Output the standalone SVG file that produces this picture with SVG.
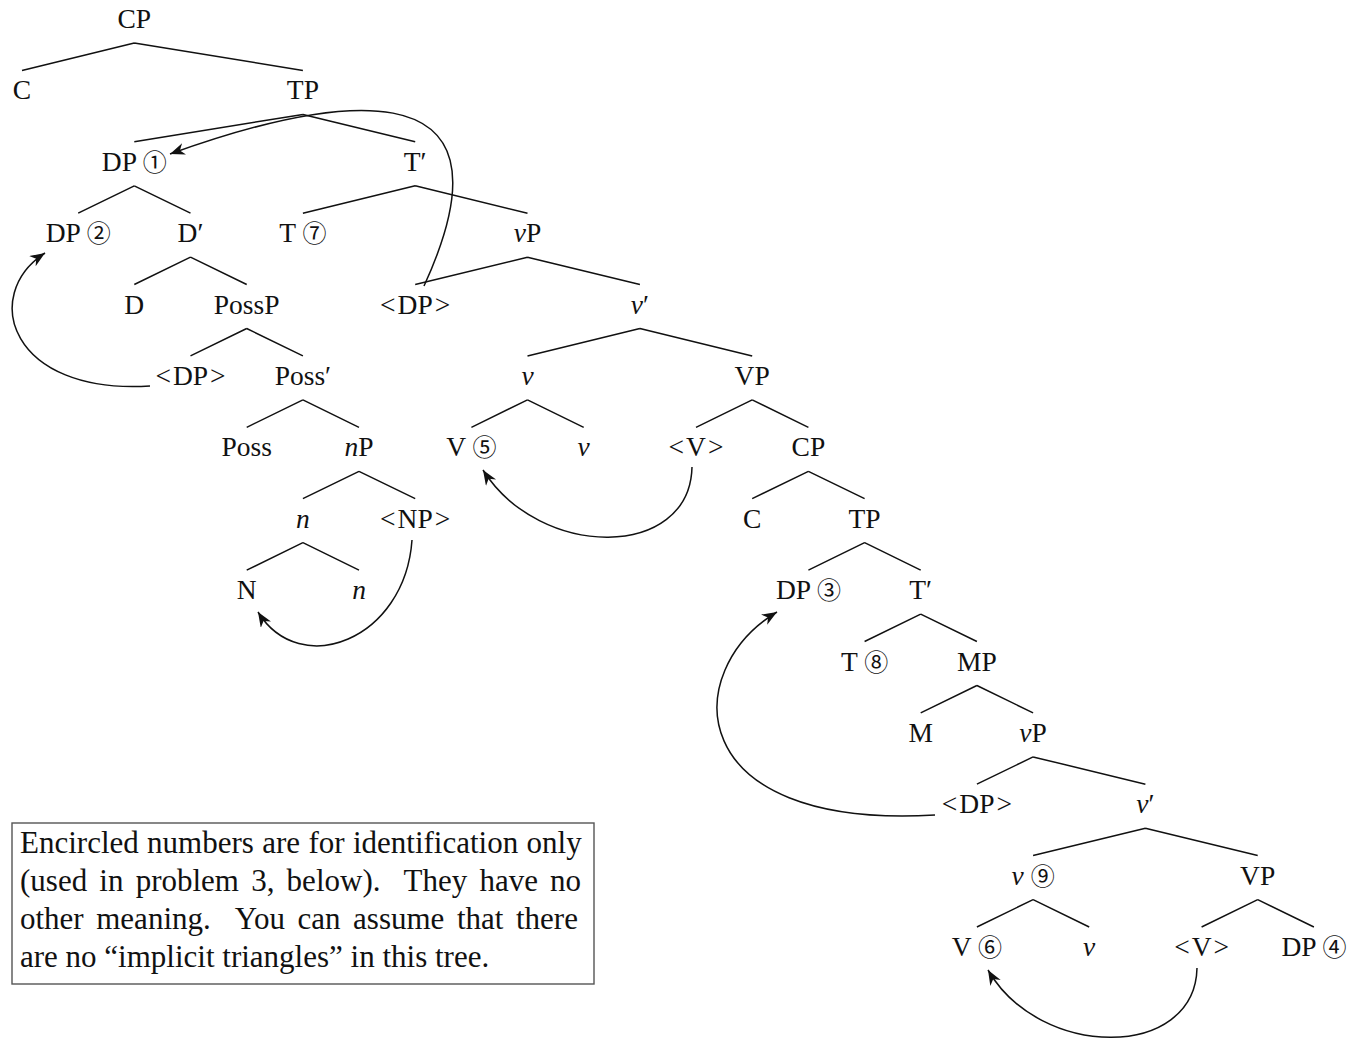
<svg xmlns="http://www.w3.org/2000/svg" width="1361" height="1045" viewBox="0 0 1361 1045">
<style>
  text { font-family: "Liberation Serif", "Times New Roman", serif; fill: #111; }
  .lbl { font-size: 27.5px; text-anchor: middle; }
  .it { font-style: italic; }
  .num { font-family: "Noto Sans CJK JP", "Noto Sans CJK SC", "DejaVu Sans", sans-serif; font-size: 24px; }
  .edge { stroke: #111; stroke-width: 1.5; fill: none; }
  .move { stroke: #111; stroke-width: 1.5; fill: none; marker-end: url(#stealth); }
  .box { fill: #fff; stroke: #555; stroke-width: 1.4; }
  .note { font-size: 31px; }
</style>
<defs>
  <marker id="stealth" markerUnits="userSpaceOnUse" markerWidth="17" markerHeight="13" refX="15" refY="6" orient="auto" viewBox="0 0 17 13">
    <path d="M0,0 L15,6 L0,12 L4.5,6 Z" fill="#111"/>
  </marker>
</defs>
<rect width="1361" height="1045" fill="#fff"/>

<g id="connectors">
  <path class="edge" d="M134.3,43 L22,70.4 M134.3,43 L302.9,70.4"/>
  <path class="edge" d="M302.9,114.4 L134.3,141.8 M302.9,114.4 L415.2,141.8"/>
  <path class="edge" d="M134.3,185.8 L78.2,213.2 M134.3,185.8 L190.5,213.2"/>
  <path class="edge" d="M415.2,185.8 L302.9,213.2 M415.2,185.8 L527.5,213.2"/>
  <path class="edge" d="M190.5,257.2 L134.3,284.5 M190.5,257.2 L246.7,284.5"/>
  <path class="edge" d="M527.5,257.2 L415.2,284.5 M527.5,257.2 L639.9,284.5"/>
  <path class="edge" d="M246.7,328.5 L190.5,355.9 M246.7,328.5 L302.9,355.9"/>
  <path class="edge" d="M639.9,328.5 L527.5,355.9 M639.9,328.5 L752.2,355.9"/>
  <path class="edge" d="M302.9,399.9 L246.7,427.3 M302.9,399.9 L359,427.3"/>
  <path class="edge" d="M527.5,399.9 L471.4,427.3 M527.5,399.9 L583.7,427.3"/>
  <path class="edge" d="M752.2,399.9 L696,427.3 M752.2,399.9 L808.4,427.3"/>
  <path class="edge" d="M359,471.3 L302.9,498.7 M359,471.3 L415.2,498.7"/>
  <path class="edge" d="M808.4,471.3 L752.2,498.7 M808.4,471.3 L864.6,498.7"/>
  <path class="edge" d="M302.9,542.7 L246.7,570.1 M302.9,542.7 L359,570.1"/>
  <path class="edge" d="M864.6,542.7 L808.4,570.1 M864.6,542.7 L920.7,570.1"/>
  <path class="edge" d="M920.7,614.1 L864.6,641.5 M920.7,614.1 L976.9,641.5"/>
  <path class="edge" d="M976.9,685.5 L920.7,712.9 M976.9,685.5 L1033.1,712.9"/>
  <path class="edge" d="M1033.1,756.9 L976.9,784.2 M1033.1,756.9 L1145.4,784.2"/>
  <path class="edge" d="M1145.4,828.2 L1033.1,855.6 M1145.4,828.2 L1257.7,855.6"/>
  <path class="edge" d="M1033.1,899.6 L976.9,927 M1033.1,899.6 L1089.2,927"/>
  <path class="edge" d="M1257.7,899.6 L1201.6,927 M1257.7,899.6 L1313.9,927"/>
  <!-- movement arrows -->
  <path class="move" d="M424,286 C530,55 320,100 170,154"/>
  <path class="move" d="M150,386 C10,395 -20,295 45,253"/>
  <path class="move" d="M412,540 C405,640 300,680 258,612"/>
  <path class="move" d="M692,467 C690,560 540,560 483,470"/>
  <path class="move" d="M935,815 C680,830 680,670 777,612"/>
  <path class="move" d="M1197,968 C1195,1060 1040,1060 988,970"/>
</g>

<g id="n-CP0"><text class="lbl" x="134.3" y="28">CP</text></g>
<g id="n-C1"><text class="lbl" x="22" y="99.4">C</text></g>
<g id="n-TP1"><text class="lbl" x="302.9" y="99.4">TP</text></g>
<g id="n-DP1"><text class="lbl" x="134.3" y="170.8">DP <tspan class="num">①</tspan></text></g>
<g id="n-Tbar1"><text class="lbl" x="415.2" y="170.8">T′</text></g>
<g id="n-DP2"><text class="lbl" x="78.2" y="242.2">DP <tspan class="num">②</tspan></text></g>
<g id="n-Dbar"><text class="lbl" x="190.5" y="242.2">D′</text></g>
<g id="n-T7"><text class="lbl" x="302.9" y="242.2">T <tspan class="num">⑦</tspan></text></g>
<g id="n-vP1"><text class="lbl" x="527.5" y="242.2"><tspan class="it">v</tspan>P</text></g>
<g id="n-D"><text class="lbl" x="134.3" y="313.5">D</text></g>
<g id="n-PossP"><text class="lbl" x="246.7" y="313.5">PossP</text></g>
<g id="n-DPt1"><text class="lbl" x="415.2" y="313.5">&lt;<tspan dx="2">DP</tspan><tspan dx="2">&gt;</tspan></text></g>
<g id="n-vbar1"><text class="lbl" x="639.9" y="313.5"><tspan class="it">v</tspan>′</text></g>
<g id="n-DPt2"><text class="lbl" x="190.5" y="384.9">&lt;<tspan dx="2">DP</tspan><tspan dx="2">&gt;</tspan></text></g>
<g id="n-Possbar"><text class="lbl" x="302.9" y="384.9">Poss′</text></g>
<g id="n-v1"><text class="lbl it" x="527.5" y="384.9">v</text></g>
<g id="n-VP1"><text class="lbl" x="752.2" y="384.9">VP</text></g>
<g id="n-Poss"><text class="lbl" x="246.7" y="456.3">Poss</text></g>
<g id="n-nP"><text class="lbl" x="359" y="456.3"><tspan class="it">n</tspan>P</text></g>
<g id="n-V5"><text class="lbl" x="471.4" y="456.3">V <tspan class="num">⑤</tspan></text></g>
<g id="n-v2"><text class="lbl it" x="583.7" y="456.3">v</text></g>
<g id="n-Vt1"><text class="lbl" x="696" y="456.3">&lt;<tspan dx="2">V</tspan><tspan dx="2">&gt;</tspan></text></g>
<g id="n-CP2"><text class="lbl" x="808.4" y="456.3">CP</text></g>
<g id="n-n1"><text class="lbl it" x="302.9" y="527.7">n</text></g>
<g id="n-NPt"><text class="lbl" x="415.2" y="527.7">&lt;<tspan dx="2">NP</tspan><tspan dx="2">&gt;</tspan></text></g>
<g id="n-C2"><text class="lbl" x="752.2" y="527.7">C</text></g>
<g id="n-TP2"><text class="lbl" x="864.6" y="527.7">TP</text></g>
<g id="n-N"><text class="lbl" x="246.7" y="599.1">N</text></g>
<g id="n-n2"><text class="lbl it" x="359" y="599.1">n</text></g>
<g id="n-DP3"><text class="lbl" x="808.4" y="599.1">DP <tspan class="num">③</tspan></text></g>
<g id="n-Tbar2"><text class="lbl" x="920.7" y="599.1">T′</text></g>
<g id="n-T8"><text class="lbl" x="864.6" y="670.5">T <tspan class="num">⑧</tspan></text></g>
<g id="n-MP"><text class="lbl" x="976.9" y="670.5">MP</text></g>
<g id="n-M"><text class="lbl" x="920.7" y="741.9">M</text></g>
<g id="n-vP2"><text class="lbl" x="1033.1" y="741.9"><tspan class="it">v</tspan>P</text></g>
<g id="n-DPt3"><text class="lbl" x="976.9" y="813.2">&lt;<tspan dx="2">DP</tspan><tspan dx="2">&gt;</tspan></text></g>
<g id="n-vbar2"><text class="lbl" x="1145.4" y="813.2"><tspan class="it">v</tspan>′</text></g>
<g id="n-v9"><text class="lbl" x="1033.1" y="884.6"><tspan class="it">v</tspan> <tspan class="num">⑨</tspan></text></g>
<g id="n-VP2"><text class="lbl" x="1257.7" y="884.6">VP</text></g>
<g id="n-V6"><text class="lbl" x="976.9" y="956">V <tspan class="num">⑥</tspan></text></g>
<g id="n-v3"><text class="lbl it" x="1089.2" y="956">v</text></g>
<g id="n-Vt2"><text class="lbl" x="1201.6" y="956">&lt;<tspan dx="2">V</tspan><tspan dx="2">&gt;</tspan></text></g>
<g id="n-DP4"><text class="lbl" x="1313.9" y="956">DP <tspan class="num">④</tspan></text></g>

<g id="note">
  <rect class="box" x="12" y="823" width="582" height="161"/>
  <text class="note" x="20" y="853" word-spacing="0.6">Encircled numbers are for identification only</text>
  <text class="note" y="891"><tspan x="20" word-spacing="4.45">(used in problem 3, below).</tspan><tspan x="403.5" word-spacing="4.45">They have no</tspan></text>
  <text class="note" y="929"><tspan x="20" word-spacing="4.8">other meaning.</tspan><tspan x="234.7" word-spacing="4.8">You can assume that there</tspan></text>
  <text class="note" x="20" y="967">are no “implicit triangles” in this tree.</text>
</g>
</svg>
